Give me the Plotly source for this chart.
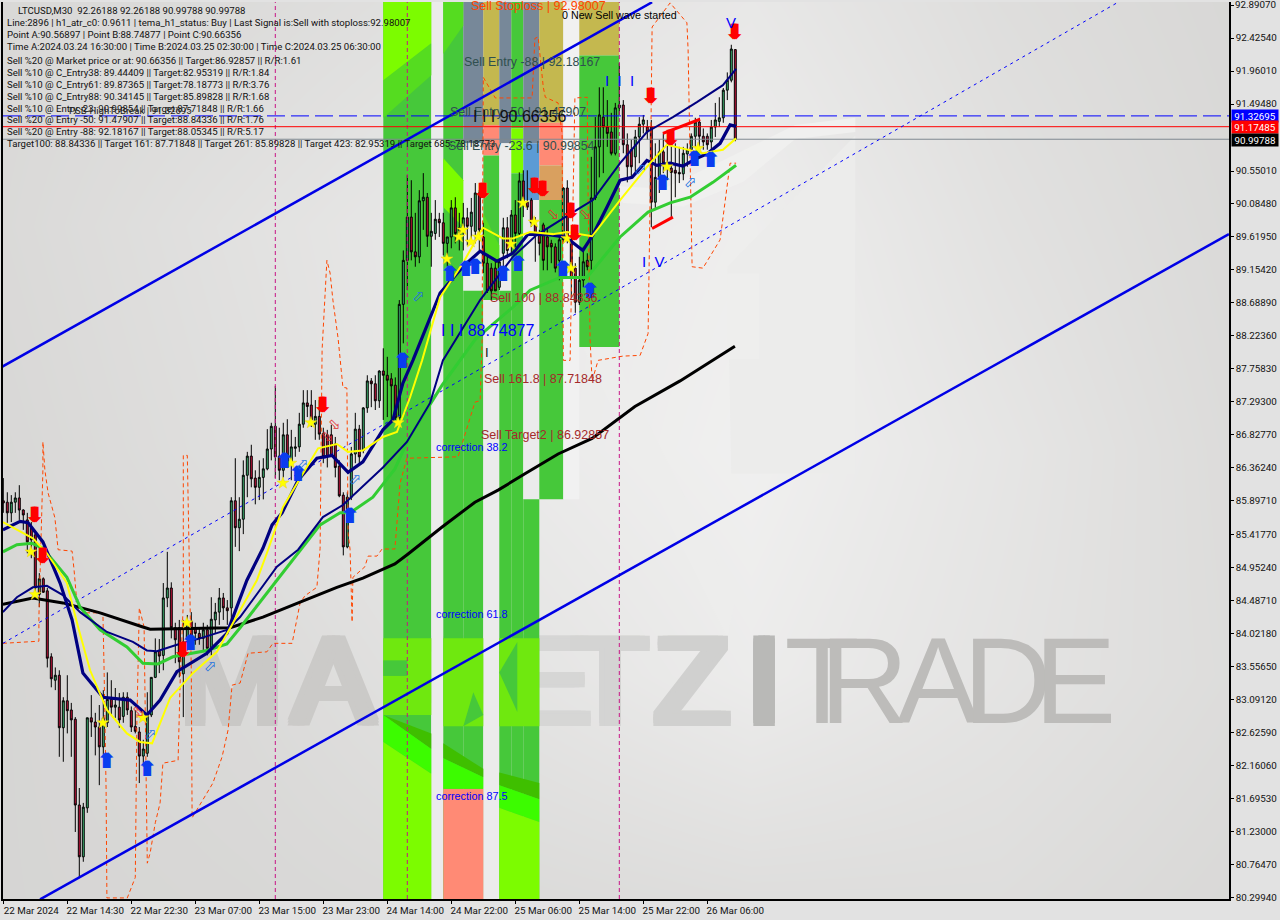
import plotly.graph_objects as go

# ---- axis labels
time_tick_bars = [0, 16, 32, 48, 64, 80, 96, 112, 128, 144, 160, 176]
time_tick_text = ["22 Mar 2024", "22 Mar 14:30", "22 Mar 22:30", "23 Mar 07:00", "23 Mar 15:00", "23 Mar 23:00",
                  "24 Mar 14:00", "24 Mar 22:00", "25 Mar 06:00", "25 Mar 14:00", "25 Mar 22:00", "26 Mar 06:00"]
price_ticks = [92.89070, 92.42540, 91.96010, 91.49480, 90.55010, 90.08480, 89.61950, 89.15420, 88.68890, 88.22360,
               87.75830, 87.29300, 86.82770, 86.36240, 85.89710, 85.41770, 84.95240, 84.48710, 84.02180, 83.55650,
               83.09120, 82.62590, 82.16060, 81.69530, 81.23000, 80.76470, 80.29940]

# ---- candles
opens = [85.90,85.88,85.73,85.88,85.94,85.77,85.63,85.52,85.42,84.58,84.80,84.63,83.70,83.37,83.44,82.70,83.08,82.95,82.82,81.61,
 80.88,81.57,82.84,82.78,82.71,82.43,82.77,83.10,82.99,82.99,82.86,83.13,82.94,82.72,82.64,82.30,82.34,82.88,83.41,83.78,
 83.72,84.53,84.67,84.11,84.11,83.46,83.94,84.20,84.11,84.03,83.96,84.08,83.82,84.22,84.33,84.53,84.39,84.39,85.90,85.52,
 85.64,86.26,86.53,86.22,86.09,86.23,86.35,86.63,86.95,86.53,86.33,86.83,86.45,86.64,86.66,86.98,87.28,87.25,86.98,87.09,
 86.85,86.83,86.83,86.70,86.39,85.98,85.25,85.95,86.56,86.91,86.61,87.21,87.59,87.55,87.31,87.73,87.67,87.62,87.53,87.07,
 88.67,89.29,89.90,89.41,89.34,90.13,90.18,89.63,89.67,89.87,89.82,89.53,89.62,90.03,89.62,89.75,89.89,89.77,89.70,90.24,
 89.62,89.25,89.18,89.18,88.91,89.39,89.75,89.51,89.93,89.67,90.41,90.11,90.14,89.80,89.67,89.79,89.62,89.53,89.48,89.29,
 89.58,90.31,89.58,89.18,88.70,89.01,89.29,89.29,90.17,90.89,91.31,91.17,91.10,90.80,91.44,91.48,90.92,90.85,90.75,91.03,
 91.21,91.17,91.17,90.11,90.46,90.82,90.66,90.59,90.56,90.53,90.51,90.79,90.85,91.04,91.24,91.04,91.04,90.96,91.17,91.25,
 91.30,91.69,91.83,92.26188]
highs = [86.22,86.02,85.98,86.02,86.12,85.78,85.73,85.60,85.46,84.88,84.82,84.67,83.75,83.55,83.51,83.13,83.44,83.05,82.85,81.85,
 81.64,82.84,83.16,82.91,83.02,83.23,83.48,83.37,83.26,83.19,83.20,83.20,83.00,82.95,82.71,82.53,83.20,83.41,83.96,83.95,
 84.74,85.18,84.75,84.18,84.22,84.22,84.29,84.33,84.18,84.11,84.18,84.15,84.54,84.46,84.67,84.60,84.50,85.95,86.50,85.95,
 86.47,86.59,86.69,86.33,86.47,86.50,86.91,87.00,87.52,86.93,87.00,87.05,86.90,86.80,87.14,87.46,87.46,87.46,87.32,87.32,
 86.93,86.90,86.97,86.80,86.47,86.02,86.02,86.66,87.14,86.97,87.22,87.67,87.63,87.67,87.74,88.05,87.93,87.70,87.64,88.73,
 89.43,90.49,90.42,89.96,90.28,90.52,90.24,89.96,90.14,89.96,89.96,89.62,90.14,90.18,89.96,90.10,90.03,90.17,90.38,90.28,
 89.82,89.34,89.25,89.29,89.29,89.89,89.90,90.00,90.14,90.53,90.56,90.56,90.17,89.90,89.72,89.82,89.75,89.58,89.53,89.62,
 90.32,90.42,89.63,89.25,89.34,89.48,89.39,90.75,91.31,91.73,91.73,91.55,91.37,91.51,92.07,91.55,91.08,90.99,91.13,91.31,
 91.34,91.27,91.27,90.94,90.99,91.08,90.94,91.03,90.94,90.89,90.89,90.94,91.08,91.30,91.30,91.15,91.08,91.27,91.51,91.59,
 91.72,91.94,92.33,92.26188]
lows = [85.73,85.59,85.60,85.73,85.63,85.49,85.16,85.09,84.60,84.40,84.60,83.55,83.27,83.23,82.29,82.22,82.62,82.29,81.23,80.59,
 80.81,81.50,82.57,82.31,81.89,82.29,82.71,82.88,82.84,82.70,82.77,82.88,82.64,82.62,81.92,82.15,82.29,82.85,83.40,83.47,
 83.51,84.40,83.96,83.61,83.41,82.85,83.79,83.84,83.87,83.87,83.79,83.72,83.72,84.03,84.15,84.22,84.15,84.22,85.25,85.19,
 85.43,85.95,86.09,85.85,85.91,85.92,86.33,86.47,86.22,86.19,86.23,86.37,86.19,86.52,86.59,86.93,87.08,86.94,86.76,86.76,
 86.43,86.37,86.52,86.23,85.95,85.13,85.23,85.91,86.43,86.43,86.57,87.14,87.22,87.18,87.21,87.04,87.08,87.04,87.04,87.04,
 88.12,88.87,89.29,89.20,89.25,89.72,89.48,89.20,89.58,89.62,89.36,89.20,89.46,89.53,89.43,89.43,89.50,89.58,89.53,89.43,
 89.11,88.83,88.73,88.86,88.87,89.20,89.32,89.39,89.48,89.62,89.90,90.00,89.76,89.27,89.36,89.15,89.15,89.25,89.12,89.01,
 89.53,89.53,88.77,88.55,88.66,88.91,89.15,89.15,90.14,90.46,90.52,90.89,90.77,90.77,91.34,90.80,90.39,90.46,90.52,90.66,
 91.08,90.99,89.76,90.03,90.24,90.52,90.42,89.90,90.18,90.38,90.42,90.61,90.70,90.89,90.89,90.85,90.85,90.85,91.03,91.17,
 91.23,91.55,91.80,90.97]
closes = [85.87,85.73,85.88,85.94,85.77,85.70,85.32,85.35,84.67,84.80,84.61,83.68,83.39,83.44,82.70,83.08,82.94,82.81,81.61,80.88,
 81.58,82.84,82.78,82.71,82.43,82.84,83.10,82.99,83.02,82.81,83.13,82.95,82.71,82.65,82.30,82.40,82.88,83.41,83.77,83.71,
 84.53,84.67,84.11,83.94,83.63,83.91,84.20,83.96,84.03,83.96,84.08,83.82,84.23,84.33,84.53,84.39,84.35,85.90,85.52,85.64,
 86.26,86.53,86.21,86.09,86.23,86.35,86.63,86.95,86.52,86.33,86.83,86.45,86.66,86.66,86.98,87.28,87.23,87.04,87.09,86.84,
 86.52,86.52,86.54,86.37,85.97,85.25,85.95,86.56,86.91,86.52,87.21,87.59,87.55,87.31,87.73,87.67,87.60,87.52,87.07,88.67,
 89.29,89.90,89.41,89.34,90.13,90.18,89.63,89.70,89.87,89.82,89.53,89.62,90.03,89.67,89.75,89.89,89.77,89.97,90.24,89.72,
 89.25,88.86,88.86,88.86,89.27,89.75,89.43,89.93,89.67,90.41,90.11,90.04,89.82,89.67,89.53,89.29,89.48,89.48,89.18,89.58,
 90.31,89.58,89.04,88.70,89.01,89.27,89.20,90.17,90.89,91.34,91.17,91.08,90.80,91.44,91.48,90.92,90.61,90.61,91.03,91.21,
 91.27,91.10,90.11,90.46,90.82,90.66,90.59,90.53,90.52,90.51,90.80,90.85,91.04,91.24,91.04,90.96,90.92,91.17,91.27,91.30,
 91.69,91.83,92.27,90.99788]

# ---- moving averages (bar number, price)
black_x = [-0.1,7.4,14.9,24.2,34.9,36.7,56.7,64.9,74.2,83.4,89.9,97.9,101.2,109.7,117.9,123.7,130.4,138.7,147.2,157.9,169.2,174.2,182.9]
black_y = [84.44,84.53,84.46,84.32,84.12,84.09,84.11,84.26,84.47,84.68,84.81,85.01,85.15,85.53,85.88,86.05,86.28,86.56,86.78,87.23,87.59,87.77,88.08]
navy_x = [-0.1,4.2,6.2,9.9,14.2,17.2,19.9,24.9,31.7,35.9,39.2,43.4,50.9,55.9,60.9,64.9,67.2,69.7,73.7,78.4,82.2,86.2,89.9,94.9,97.4,99.9,102.4,109.2,114.9,119.2,123.4,127.4,131.2,136.7,140.4,142.2,144.9,147.4,150.9,154.2,157.2,160.9,163.4,166.7,169.9,173.4,175.9,179.2,181.7,183.2]
navy_y = [85.49,85.61,85.59,85.32,84.74,84.22,83.47,83.13,83.09,82.88,83.09,83.49,83.75,84.03,84.78,85.23,85.56,85.73,86.19,86.50,86.54,86.30,86.45,86.90,87.04,87.56,87.88,88.83,89.20,89.42,89.28,89.39,89.66,89.65,89.62,89.55,89.43,89.65,90.04,90.42,90.46,90.70,90.63,90.66,90.62,90.73,90.79,90.94,91.20,91.18]
thin_x = [-0.1,3.4,7.4,10.9,14.9,19.2,25.9,32.4,35.9,38.4,43.4,49.2,55.9,59.2,68.4,73.7,79.9,84.9,94.9,100.9,106.7,109.9,119.2,127.4,133.4,139.2,144.2,147.4,154.2,160.9,167.4,173.4,179.9,183.2]
thin_y = [84.33,84.54,84.68,84.70,84.57,84.33,84.05,83.91,83.79,83.78,83.87,83.96,84.08,84.26,84.97,85.21,85.67,85.84,86.37,86.73,87.28,87.88,88.73,89.34,89.65,89.86,90.03,90.14,90.66,91.10,91.31,91.52,91.76,91.99]
green_x = [-0.1,3.4,7.2,9.9,15.9,19.2,24.2,30.9,34.9,38.7,42.4,50.9,55.9,59.2,68.4,79.2,84.2,86.7,92.4,97.9,101.2,109.7,117.9,119.7,127.4,131.7,139.2,145.9,154.2,161.2,166.7,171.7,177.4,183.2]
green_y = [85.18,85.28,85.30,85.23,84.82,84.40,84.08,83.84,83.61,83.60,83.70,83.79,83.88,84.11,84.78,85.56,85.73,85.73,85.95,86.35,86.76,87.53,88.17,88.26,88.63,88.87,89.05,89.05,89.62,89.97,90.10,90.18,90.39,90.63]
yellow_x = [-0.1,3.4,7.4,10.9,15.9,18.7,21.7,25.9,30.9,34.2,37.2,41.7,47.4,53.4,57.4,63.4,66.2,69.9,75.4,78.7,83.4,86.2,89.9,94.9,98.4,101.7,104.7,109.2,114.9,119.9,124.9,127.4,131.7,137.4,140.9,147.2,154.2,161.7,165.9,170.9,174.9,179.9,183.2]
yellow_y = [85.60,85.49,85.37,85.16,84.74,84.12,83.51,82.95,82.62,82.50,82.48,83.12,83.47,83.77,84.18,84.78,85.21,85.81,86.33,86.64,86.70,86.59,86.61,86.80,86.87,87.36,87.88,88.77,89.25,89.75,89.60,89.60,89.69,89.66,89.69,89.63,90.14,90.66,90.92,90.85,90.80,90.85,91.01]

# ---- trailing stop (dashed orange)
stop_x = [-0.1,8.9,8.9,9.9,9.9,10.4,11.2,12.9,13.7,17.2,17.7,18.4,19.2,24.9,25.2,25.7,25.9,31,33,33.4,34,35.2,35.4,36,36.7,38,39.2,39.9,43.7,44.2,45,45,46,46.2,46.5,46.7,47,47.2,52.4,54.7,56.2,57.2,59.2,61.2,65.9,67.4,72.2,74.2,75.4,78.4,79.2,79.7,80.9,81.7,82.4,83.7,84.9,85.9,86.2,86.7,87.2,87.4,90.4,91.2,93.4,94.7,97.9,99.2,100.9,113.7,117.9,119.2,119.7,120,123,132.2,132.9,133.7,135,135.5,138.7,139.7,140,141.7,142.9,146,146.2,146.7,147.2,148.7,154.9,159.2,161.2,161.7,162.2,166.7,170.9,171.2,172.2,174.9,179.2,181.7,183.2]
stop_y = [83.89,83.92,84.26,86.33,86.73,86.33,86.01,85.66,85.21,85.19,84.92,84.46,84.32,84.32,83.51,81.82,80.30,80.30,80.59,82.81,84.39,84.12,83.27,80.79,80.93,81.36,81.64,82.20,82.24,83.33,84.46,86.54,86.54,85.91,84.60,84.08,83.51,81.43,81.92,82.29,82.67,83.30,83.33,83.75,83.77,83.89,83.89,84.46,84.56,84.68,85.23,88.03,89.29,89.11,88.73,88.19,87.50,87.49,85.44,85.21,84.19,84.82,84.97,85.12,85.12,85.22,85.22,86.15,86.50,86.52,87.29,87.31,88.17,91.87,91.58,91.58,92.42,92.44,91.73,91.59,91.51,91.08,87.88,87.88,91.58,91.59,90.14,88.17,87.59,87.88,87.94,87.95,88.26,90.14,92.58,92.92,92.64,92.26,89.20,89.18,89.58,90.66,90.66]

# ---- channel lines
chan_up_x = [-0.3, 162.2];  chan_up_y = [87.79, 92.93]
chan_mid_x = [-0.1, 278.7]; chan_mid_y = [83.89, 92.93]
chan_low_x = [9.2, 306.4];  chan_low_y = [80.28, 89.66]
flag_top_x = [164.9, 174.2]; flag_top_y = [91.08, 91.28]
flag_low_x = [162.2, 167.4]; flag_low_y = [89.74, 89.90]

# ---- levels
level_blue, level_red, level_gray = 91.32695, 91.17485, 90.99788
vertical_bars = [68, 101, 154]

# ---- signals
red_arrow_x = [7.9,9.9,44.9,79.9,119.9,132.9,134.9,141.9,142.9,161.9,166.9,182.9]
red_arrow_y = [85.67,85.09,83.77,87.22,90.24,90.31,90.27,89.96,89.65,91.58,90.99,92.48]
blue_arrow_x = [25.9,36,46.9,86.7,73.7,70.4,99.9,111.7,115.7,118,125,128.7,140,146.7,164.9,172.9,176.9]
blue_arrow_y = [82.20,82.09,83.87,85.66,86.26,86.43,87.84,89.08,89.14,89.17,89.08,89.22,89.15,88.83,90.35,90.70,90.68]
star_x = [6.9,7.9,24.9,34.9,45.9,69.9,71.9,76.9,98.7,110.9,113.9,114.9,116.9,118.7,126.9,129.9,132.7,140.9,141.9,165.9,173.7]
star_y = [85.18,84.58,82.77,82.84,84.18,86.15,86.43,87.00,87.00,89.31,89.62,89.72,89.55,89.62,89.52,90.10,89.83,89.60,89.18,90.61,90.87]
open_up_x = [36.7,51.7,74.7,87.9,103.7,159.2,171.7]
open_up_y = [82.60,83.55,86.40,86.19,88.77,90.56,90.38]
open_dn_x = [33.7,80.9,82.7,137.4,145.4]
open_dn_y = [82.92,86.80,86.97,89.93,89.93]

# ---- background levels (grey value)
bg_x = [-1, 61, 124, 187, 249, 307]
bg_y = [80.28, 83.45, 86.63, 89.78, 92.94]
bg_z = [[214,216,219,222,222,217],
        [214,219,228,236,228,221],
        [216,224,234,240,230,220],
        [218,226,234,238,226,218],
        [217,220,226,232,222,216]]

# ---- coloured zones: bar from, bar to, price top, price bottom, colour
G, LIME, BRIGHT, DARK = "#46c83a", "#7cfc00", "#3cfc00", "#3fbf00"
SLATE, KHAKI, SALMON, STEEL, ORANGE, LIGHT, WM, MID = "#778899", "#c4b84f", "#ff8a75", "#5b9bd5", "#d9a05f", "#ebebeb", "#6fe80f", "#55dc20"
zones = [
 (95,107,92.94,80.28,G), (107,110,92.94,80.28,LIGHT),
 (110,115,92.94,80.28,G),
 (115,120,92.94,90.94,SLATE), (115,120,90.94,88.86,LIGHT), (115,120,88.86,80.28,G),
 (120,124,92.94,91.20,KHAKI), (120,124,91.20,90.77,SALMON), (120,124,90.77,88.73,G), (120,124,88.73,80.28,LIGHT),
 (124,127,92.94,90.94,SLATE), (124,127,90.94,88.86,LIGHT), (124,127,88.86,80.28,G),
 (127,130,92.94,91.15,G), (127,130,91.15,90.52,LIME), (127,130,90.52,80.28,G),
 (130,134,92.94,90.94,SLATE), (130,134,90.94,90.14,STEEL), (130,134,90.14,85.92,LIGHT), (130,134,85.92,80.28,G),
 (134,140,92.94,91.23,KHAKI), (134,140,91.23,90.63,SALMON), (134,140,90.63,90.14,ORANGE), (134,140,90.14,85.92,G),
 (140,144,92.94,85.92,"#f1f1f1"),
 (144,154,92.94,92.18,KHAKI), (144,154,92.18,88.07,G),
 (95,107,83.96,82.88,WM), (110,120,83.96,82.72,WM), (124,134,83.96,82.72,WM),
 (95,101,83.65,83.43,G),
 (110,120,81.84,80.28,SALMON),
]
polys = [
 ([95,107,107,95],[82.88,82.62,82.40,82.88],DARK),
 ([95,107,107,95],[82.88,82.40,82.05,82.50],BRIGHT),
 ([95,107,107,95],[82.50,82.05,80.28,80.28],LIME),
 ([110,120,120,110],[82.48,82.12,82.00,82.27],DARK),
 ([110,120,120,110],[82.27,82.00,81.84,81.84],BRIGHT),
 ([124,134,134,124],[82.07,81.92,81.69,81.89],DARK),
 ([124,134,134,124],[81.89,81.69,81.37,81.57],BRIGHT),
 ([124,134,134,124],[81.57,81.37,80.28,80.28],LIME),
 ([115,117.5,120],[82.72,83.20,82.88],G),
 ([124,128.5,128.5],[83.48,83.91,82.92],G),
 ([95,107,107,95],[91.83,92.35,91.90,91.30],MID),
 ([95,107,107,95],[92.94,92.94,92.35,91.83],LIME),
 ([110,115,115,110],[92.94,92.94,92.60,92.20],MID),
 ([110,115,115,110],[90.73,90.42,89.76,90.04],LIME),
 ([120,124,124,120],[89.95,89.50,89.10,89.50],MID),
]

# ---- logo watermark shapes (bar, price)
logo = [
 ([181,213,213,182],[89.20,91.05,86.28,86.28],"#ececeb"),
 ([155,170,185,198,213,213,198,180,165,150],[90.10,90.05,90.40,91.00,91.10,91.30,91.20,90.70,90.30,90.35],"#f0f0ef"),
 ([145,152,183,181],[88.05,88.05,84.50,83.96],"#ededec"),
 ([181,189,189,181],[89.10,89.10,87.90,87.90],"#eeeeed"),
]

# ---- watermark text
wm_letters = ["M","A","R","K","E","T","Z","I"]
wm_bars = [57,82.5,105.5,121.7,136.7,151.7,172.2,190.2]
wm_colors = ["#c9c8c6","#cbcac8","#cfcecc","#d2d2d0","#d6d6d5","#d4d4d3","#d0d0cf","#b9b9b7"]
wm2_letters = ["T","R","A","D","E"]
wm2_bars = [204.7,215.2,233.7,251,268]
wm_price = 83.20

P0, P1 = 3, 1229
T0, T1 = 2, 899
xmin = (P0-3.3)/4; xmax = (P1-3.3)/4
ymax, ymin = 92.8907+(5-T0)/70.92, 92.8907-(T1-5)/70.92

def thick(c, dx, dy):
    return f"{dx}px 0 0 {c}, -{dx}px 0 0 {c}, {dx/2}px 0 0 {c}, -{dx/2}px 0 0 {c}, 0 {dy}px 0 {c}, 0 -{dy}px 0 {c}, {dx}px {dy}px 0 {c}, -{dx}px -{dy}px 0 {c}, {dx}px -{dy}px 0 {c}, -{dx}px {dy}px 0 {c}"

fig = go.Figure()
fig.add_trace(go.Heatmap(x=bg_x, y=bg_y, z=bg_z, zsmooth="best", zmin=200, zmax=250, showscale=False, hoverinfo="skip",
                         colorscale=[[0,"rgb(200,199,197)"],[1,"rgb(250,250,250)"]], xaxis="x", yaxis="y"))
for px, py, c in logo:
    fig.add_trace(go.Scatter(x=px+px[:1], y=py+py[:1], mode="lines", fill="toself", fillcolor=c, line=dict(width=0), hoverinfo="skip", xaxis="x", yaxis="y"))
for l, b, c in zip(wm_letters, wm_bars, wm_colors):
    fig.add_trace(go.Scatter(x=[b], y=[wm_price], mode="text", text=[l], textposition="middle center", hoverinfo="skip",
                             textfont=dict(family="Liberation Sans", size=123, color=c, shadow=thick(c, 5, 3)), xaxis="x", yaxis="y"))
for l, b in zip(wm2_letters, wm2_bars):
    fig.add_trace(go.Scatter(x=[b], y=[wm_price], mode="text", text=[l], textposition="middle center", hoverinfo="skip",
                             textfont=dict(family="Liberation Sans", size=123, color="#bdbcba"), xaxis="x", yaxis="y"))
for x0, x1, yt, yb, c in zones:
    fig.add_trace(go.Scatter(x=[x0,x1,x1,x0,x0], y=[yt,yt,yb,yb,yt], mode="lines", fill="toself", fillcolor=c, line=dict(width=0), hoverinfo="skip", xaxis="x", yaxis="y"))
for px, py, c in polys:
    fig.add_trace(go.Scatter(x=px+px[:1], y=py+py[:1], mode="lines", fill="toself", fillcolor=c, line=dict(width=0), hoverinfo="skip", xaxis="x", yaxis="y"))

ov = dict(xaxis="x2", yaxis="y2", hoverinfo="skip")
bars = list(range(len(opens)))
for v in vertical_bars:
    fig.add_trace(go.Scatter(x=[v,v], y=[ymin,ymax], mode="lines", line=dict(color="#c71585", width=1, dash="4px,3px"), **ov))
fig.add_trace(go.Scatter(x=[xmin,xmax], y=[level_gray]*2, mode="lines", line=dict(color="#7f8890", width=1), **ov))
fig.add_trace(go.Scatter(x=[xmin,xmax], y=[level_red]*2, mode="lines", line=dict(color="#ff0000", width=1), **ov))
fig.add_trace(go.Scatter(x=[xmin,xmax], y=[level_blue]*2, mode="lines", line=dict(color="#0000ff", width=1, dash="18px,6px"), **ov))
fig.add_trace(go.Candlestick(x=bars, open=opens, high=highs, low=lows, close=closes, whiskerwidth=0,
    increasing=dict(line=dict(color="#000000", width=1), fillcolor="#3cb371"),
    decreasing=dict(line=dict(color="#000000", width=1), fillcolor="#c3143c"),
    hoverinfo="skip", xaxis="x2", yaxis="y2"))
fig.add_trace(go.Scatter(x=stop_x, y=stop_y, mode="lines", line=dict(color="#ff4500", width=1, dash="4px,3px"), **ov))
fig.add_trace(go.Scatter(x=chan_mid_x, y=chan_mid_y, mode="lines", line=dict(color="#0000ff", width=1, dash="3px,4px"), **ov))
fig.add_trace(go.Scatter(x=chan_up_x, y=chan_up_y, mode="lines", line=dict(color="#0000e6", width=2.5), **ov))
fig.add_trace(go.Scatter(x=chan_low_x, y=chan_low_y, mode="lines", line=dict(color="#0000e6", width=2.5), **ov))
fig.add_trace(go.Scatter(x=black_x, y=black_y, mode="lines", line=dict(color="#000000", width=3), **ov))
fig.add_trace(go.Scatter(x=green_x, y=green_y, mode="lines", line=dict(color="#32cd32", width=3), **ov))
fig.add_trace(go.Scatter(x=thin_x, y=thin_y, mode="lines", line=dict(color="#000080", width=2), **ov))
fig.add_trace(go.Scatter(x=navy_x, y=navy_y, mode="lines", line=dict(color="#000080", width=3.2), **ov))
fig.add_trace(go.Scatter(x=yellow_x, y=yellow_y, mode="lines", line=dict(color="#ffff00", width=2), **ov))
fig.add_trace(go.Scatter(x=flag_top_x, y=flag_top_y, mode="lines", line=dict(color="#ff0000", width=3), **ov))
fig.add_trace(go.Scatter(x=flag_low_x, y=flag_low_y, mode="lines", line=dict(color="#ff0000", width=3), **ov))
fig.add_trace(go.Scatter(x=star_x, y=star_y, mode="markers", marker=dict(symbol="star", size=9, color="#ffff00", line=dict(color="#e8d020", width=0.5)), **ov))
fig.add_trace(go.Scatter(x=red_arrow_x, y=red_arrow_y, mode="text", text=["\u2b07"]*len(red_arrow_x), textposition="middle center",
                         textfont=dict(family="DejaVu Sans", size=21, color="#ff0000", shadow="1.5px 0 0 #ff0000, -1.5px 0 0 #ff0000"), **ov))
fig.add_trace(go.Scatter(x=blue_arrow_x, y=blue_arrow_y, mode="text", text=["\u2b06"]*len(blue_arrow_x), textposition="middle center",
                         textfont=dict(family="DejaVu Sans", size=21, color="#0a3cf0", shadow="1.5px 0 0 #0a3cf0, -1.5px 0 0 #0a3cf0"), **ov))
fig.add_trace(go.Scatter(x=open_up_x, y=open_up_y, mode="text", text=["\u2b00"]*len(open_up_x), textposition="middle center",
                         textfont=dict(family="DejaVu Sans", size=15, color="#2070e0"), **ov))
fig.add_trace(go.Scatter(x=open_dn_x, y=open_dn_y, mode="text", text=["\u2b02"]*len(open_dn_x), textposition="middle center",
                         textfont=dict(family="DejaVu Sans", size=15, color="#e03030"), **ov))

W, H = 1280, 920
def ax(px): return (px-P0)/(P1-P0)
def ay(py): return (T1-py)/(T1-T0)
def label(text, px, py, size, color, family="Liberation Sans", anchor="left"):
    return dict(text=text, x=ax(px-2), y=ay(py), xref="paper", yref="paper", xanchor=anchor, yanchor="middle", showarrow=False,
                font=dict(family=family, size=size, color=color), align="left")

info = [
 ("LTCUSD,M30  92.26188 92.26188 90.99788 90.99788", 18, 11),
 ("Line:2896 | h1_atr_c0: 0.9611 | tema_h1_status: Buy | Last Signal is:Sell with stoploss:92.98007", 7, 23),
 ("Point A:90.56897 | Point B:88.74877 | Point C:90.66356", 7, 35),
 ("Time A:2024.03.24 16:30:00 | Time B:2024.03.25 02:30:00 | Time C:2024.03.25 06:30:00", 7, 47),
 ("Sell %20 @ Market price or at: 90.66356 || Target:86.92857 || R/R:1.61", 7, 60),
 ("Sell %10 @ C_Entry38: 89.44409 || Target:82.95319 || R/R:1.84", 7, 72),
 ("Sell %10 @ C_Entry61: 89.87365 || Target:78.18773 || R/R:3.76", 7, 84),
 ("Sell %10 @ C_Entry88: 90.34145 || Target:85.89828 || R/R:1.68", 7, 96),
 ("Sell %10 @ Entry -23: 90.99854 || Target:87.71848 || R/R:1.66", 7, 108),
 ("Sell %20 @ Entry -50: 91.47907 || Target:88.84336 || R/R:1.76", 7, 120),
 ("Sell %20 @ Entry -88: 92.18167 || Target:88.05345 || R/R:5.17", 7, 132),
 ("Target100: 88.84336 || Target 161: 87.71848 || Target 261: 85.89828 || Target 423: 82.95319 || Target 685: 78.18773", 7, 144),
]
anns = [label(t, x, y, 9.6, "#111111", "Roboto") for t, x, y in info]
BROWN, DSLATE = "#a52a2a", "#2f4f4f"
anns += [
 label("PSB-HighToBreak | 91.32695", 69, 110, 9.6, "#222222", "Roboto"),
 label("Sell Stoploss | 92.98007", 471, 6, 12.5, "#ff4500"),
 label("0 New Sell wave started", 562, 15, 10.7, "#000000"),
 label("Sell Entry -88 | 92.18167", 464, 62, 12.4, DSLATE),
 label("Sell Entry -50 | 91.47907", 450, 112, 12.4, DSLATE),
 label("I I I 90.66356", 473, 117, 16, "#111111"),
 label("Sell Entry -23.6 | 90.99854", 448, 146, 12.4, DSLATE),
 label("Sell 100 | 88.84336", 490, 298, 12.5, BROWN),
 label("I I I 88.74877", 441, 330, 16, "#0000ff"),
 label("Sell 161.8 | 87.71848", 484, 379, 12.5, BROWN),
 label("Sell Target2 | 86.92857", 481, 435, 12.5, BROWN),
 label("correction 38.2", 436, 447, 10.8, "#0000ff"),
 label("correction 61.8", 436, 614, 10.8, "#0000ff"),
 label("correction 87.5", 436, 796, 10.8, "#0000ff"),
 label("I  I  I", 605, 80, 15, "#0000ff"),
 label("I  V", 642, 261, 15, "#0000ff"),
 label("V", 726, 22, 15, "#0000ff"),
 label("I", 485, 352, 13, "#111111"),
 label("92.89070", 1235, 5, 9.8, "#111111", "Roboto"),
]
for txt, py, bg in [("91.32695", 116, "#0000ff"), ("91.17485", 127, "#ff0000"), ("90.99788", 140, "#000000")]:
    anns.append(dict(text=txt, x=ax(1231), y=ay(py), xref="paper", yref="paper", xanchor="left", yanchor="middle", showarrow=False,
                     bgcolor=bg, font=dict(family="Roboto", size=9.8, color="#ffffff"), borderpad=1, width=44, height=10))

axis_font = dict(family="Roboto", size=9.8, color="#111111")
fig.update_layout(
    width=W, height=H, showlegend=False, hovermode=False, paper_bgcolor="#e2e2e2", plot_bgcolor="#dedddb",
    margin=dict(l=P0, r=W-P1, t=T0, b=H-T1, autoexpand=False), annotations=anns,
    xaxis=dict(domain=[0,1], range=[xmin,xmax], tickvals=time_tick_bars, ticktext=time_tick_text, tickfont=axis_font, ticks="outside", ticklen=3,
               tickcolor="#000000", showgrid=False, zeroline=False, rangeslider=dict(visible=False), showline=True, linecolor="#000000", linewidth=1.5,
               ticklabelshift=28, ticklabelstandoff=-2, tickangle=0),
    yaxis=dict(domain=[0,1], range=[ymin,ymax], side="right", tickvals=price_ticks, ticktext=[f"{v:.5f}" for v in price_ticks], tickfont=axis_font, ticks="outside", ticklen=3,
               tickcolor="#000000", showgrid=False, zeroline=False, showline=True, linecolor="#000000", linewidth=1.5, mirror=True),
    xaxis2=dict(overlaying="x", range=[xmin,xmax], visible=False, rangeslider=dict(visible=False), fixedrange=True),
    yaxis2=dict(overlaying="y", range=[ymin,ymax], visible=False, fixedrange=True),
)
fig.write_html("out.html", post_script="document.body.style.margin='0';document.body.style.overflow='hidden';", config=dict(displayModeBar=False))
